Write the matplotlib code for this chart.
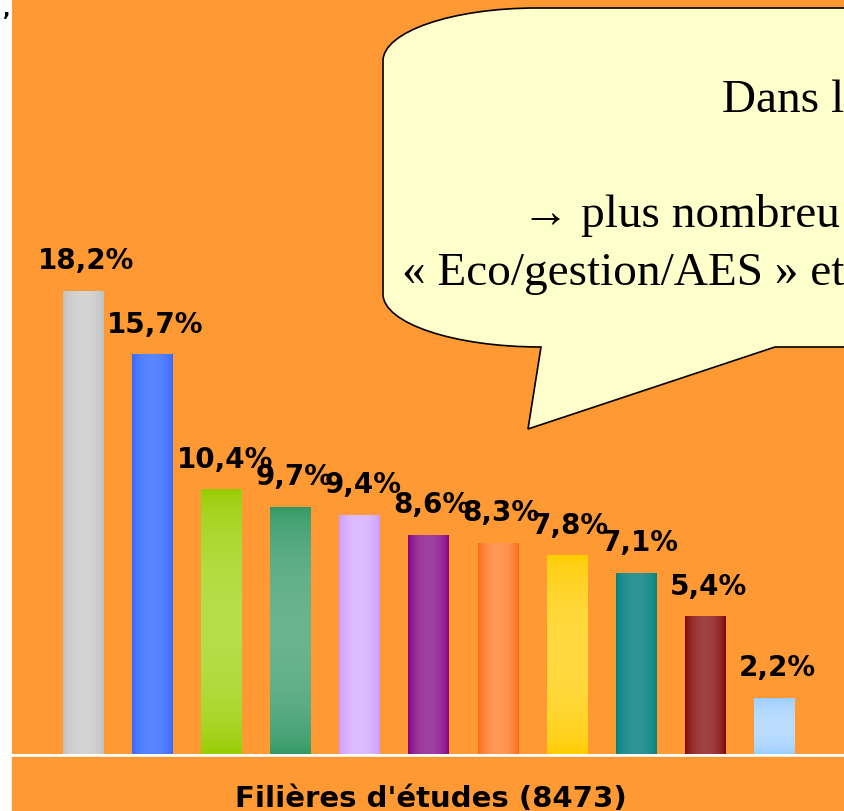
import numpy as np
import matplotlib
matplotlib.use('Agg')
import matplotlib.pyplot as plt
from matplotlib.colors import to_rgb
from matplotlib.patches import Rectangle, PathPatch
from matplotlib.path import Path

# Données
valeurs = [18.2, 15.7, 10.4, 9.7, 9.4, 8.6, 8.3, 7.8, 7.1, 5.4, 2.2]
etiquettes = ['18,2%', '15,7%', '10,4%', '9,7%', '9,4%', '8,6%', '8,3%', '7,8%', '7,1%', '5,4%', '2,2%']
titre_axe = "Filières d'études (8473)"

# couleurs (bord, centre, sens du dégradé)
couleurs = [
    ('#C0C0C0', '#D4D4D4', 'h'),
    ('#3366FF', '#5A85FF', 'h'),
    ('#99CC00', '#B5DE48', 'v'),
    ('#339966', '#6AB48E', 'v'),
    ('#CC99FF', '#DDBDFF', 'h'),
    ('#800080', '#A040A0', 'h'),
    ('#FF6611', '#FF9958', 'h'),
    ('#FFCC00', '#FFD940', 'v'),
    ('#008080', '#2E9494', 'h'),
    ('#800000', '#A04242', 'h'),
    ('#99CCFF', '#BBDDFF', 'v'),
]

orange = '#FF9933'
W, H = 844, 812

fig = plt.figure(figsize=(W / 100, H / 100), dpi=100)
fig.patch.set_facecolor('white')

# zone du graphique
ax = fig.add_axes([12 / W, 57 / H, 832 / W, 755 / H])
ax.set_facecolor(orange)
for s in ax.spines.values():
    s.set_visible(False)
ax.set_xticks([])
ax.set_yticks([])

x = np.arange(len(valeurs))
barres = ax.bar(x, valeurs, width=0.58, color='none', zorder=2)


def degrade(barre, bord, centre, sens):
    t = np.linspace(0, 1, 80)
    prof = np.sin(np.pi * t) ** 0.6
    c0 = np.array(to_rgb(bord))
    c1 = np.array(to_rgb(centre))
    img = c0 + (c1 - c0) * prof[:, None]
    if sens == 'h':
        img = img[None, :, :]
    else:
        img = img[:, None, :]
    x0, y0 = barre.get_x(), barre.get_y()
    w, h = barre.get_width(), barre.get_height()
    ax.imshow(img, extent=(x0, x0 + w, y0, y0 + h), aspect='auto',
              interpolation='bilinear', zorder=2)


for b, (c_bord, c_centre, sens) in zip(barres, couleurs):
    degrade(b, c_bord, c_centre, sens)

ax.set_xlim(-1.027, 11.013)
ax.set_ylim(0, 29.70)

for xi, v, lab in zip(x, valeurs, etiquettes):
    ax.text(xi + 0.05, v + 1.22, lab, ha='center', va='center',
            fontsize=20, fontweight='bold', family='DejaVu Sans',
            color='black', zorder=4, clip_on=False)

# bande du bas
fig.patches.append(Rectangle((12 / W, 0), 832 / W, 54 / H,
                             transform=fig.transFigure, color=orange, zorder=0))
fig.text(431 / W, 5 / H, titre_axe, ha='center', va='baseline',
         fontsize=21, fontweight='bold', family='DejaVu Sans')

fig.text(3 / W, 1 - 16 / H, ',', ha='left', va='baseline',
         fontsize=14, fontweight='bold')

# bulle de commentaire (coordonnées en pixels)
ov = fig.add_axes([0, 0, 1, 1])
ov.set_xlim(0, W)
ov.set_ylim(H, 0)
ov.axis('off')
ov.patch.set_alpha(0)

k = 0.5523
sommets = [
    (383, 62),
    (383, 62 - k * 53), (537 - k * 154, 9), (537, 9),
    (860, 9),
    (860, 348),
    (775, 348),
    (528, 430),
    (541, 348),
    (541 - k * 158, 348), (383, 295 + k * 53), (383, 295),
    (383, 62),
]
codes = [Path.MOVETO,
         Path.CURVE4, Path.CURVE4, Path.CURVE4,
         Path.LINETO, Path.LINETO, Path.LINETO, Path.LINETO, Path.LINETO,
         Path.CURVE4, Path.CURVE4, Path.CURVE4,
         Path.CLOSEPOLY]
bulle = PathPatch(Path(sommets, codes), facecolor='#FFFFCC', edgecolor='black',
                  linewidth=1.2, zorder=5)
ov.add_patch(bulle)

serif = ['Liberation Serif', 'DejaVu Serif']
ov.text(722, 112, 'Dans l', ha='left', va='baseline', fontsize=34,
        family=serif, zorder=6)
ov.text(522, 227, '→ plus nombreu', ha='left', va='baseline', fontsize=34,
        family=serif, zorder=6)
ov.text(402, 285, '« Eco/gestion/AES » et', ha='left', va='baseline',
        fontsize=34, family=serif, zorder=6)

plt.savefig('out.png', dpi=100, facecolor=fig.get_facecolor())
